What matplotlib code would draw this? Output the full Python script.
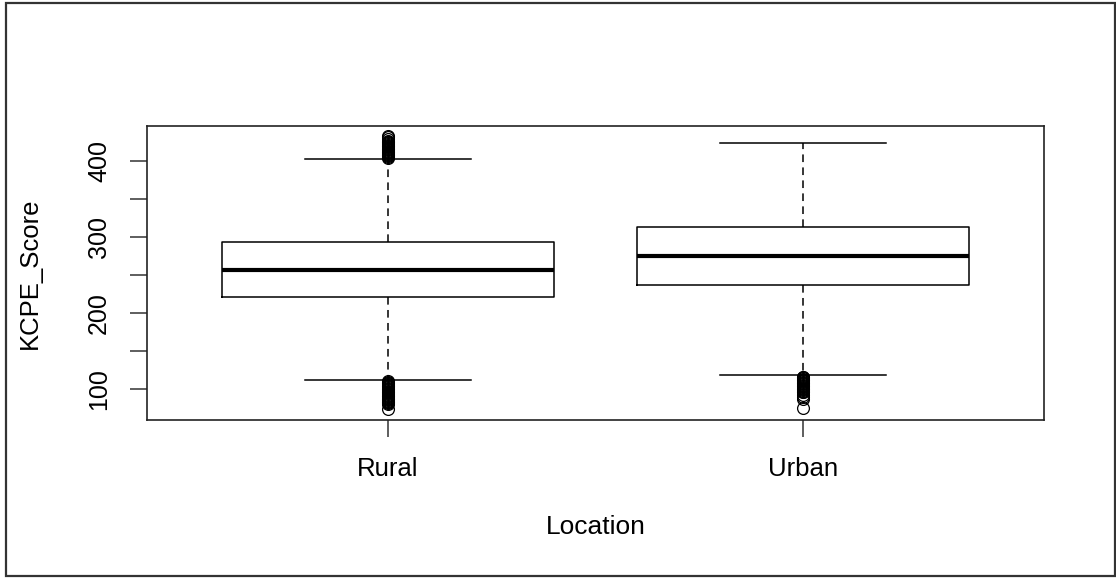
import matplotlib
matplotlib.use("Agg")
import matplotlib.pyplot as plt
from matplotlib.patches import Rectangle

plt.rcParams['font.family'] = ['Liberation Sans', 'DejaVu Sans']

categories = ["Rural", "Urban"]
q1 = [221, 236]
med = [256, 274.6]
q3 = [293.4, 313.2]
whislo = [111.4, 118]
whishi = [402.2, 422.9]
fliers_rural = [404, 405, 406, 407, 408, 409, 410, 411, 412, 413, 414, 415, 416,
                417, 418, 419, 420, 421, 422, 423, 424, 425, 426, 428, 431, 433,
                110, 109, 108, 107, 106, 105, 104, 103, 102, 101, 100, 99, 98, 97,
                96, 95, 94, 93, 92, 91, 90, 89, 88, 87, 86, 85, 84, 83, 82, 81, 80, 73]
fliers_urban = [116, 115, 114, 113, 112, 111, 110, 109, 108, 107, 106, 105, 104,
                103, 102, 101, 100, 99, 98, 97, 96, 95, 92, 89, 87, 75]
fliers = [fliers_rural, fliers_urban]
yticks = [100, 150, 200, 250, 300, 350, 400]
ytick_labels = ["100", "", "200", "", "300", "", "400"]

fig = plt.figure(figsize=(11.16, 5.79), dpi=100)
ax = fig.add_axes([147/1116, 1-420/579, (1044-147)/1116, (420-126)/579])

stats = []
for i, c in enumerate(categories):
    stats.append(dict(label=c, q1=q1[i], med=med[i], q3=q3[i],
                      whislo=whislo[i], whishi=whishi[i], fliers=fliers[i]))

ax.bxp(stats, positions=[1, 2], widths=0.8, showfliers=True,
       boxprops=dict(color='black', linewidth=1.1),
       medianprops=dict(color='black', linewidth=3.0, solid_capstyle='butt'),
       whiskerprops=dict(color='black', linewidth=1.1, linestyle=(0, (5, 3.5))),
       capprops=dict(color='black', linewidth=1.1),
       capwidths=0.4,
       flierprops=dict(marker='o', markersize=8.5, markerfacecolor='none',
                       markeredgecolor='black', markeredgewidth=0.9))

ax.set_xlim(0.42, 2.58)
ax.set_ylim(58.8, 445.7)
ax.set_yticks(yticks)
ax.set_yticklabels(ytick_labels, rotation=90, va='center', fontsize=18)
ax.set_xticks([1, 2])
ax.set_xticklabels(categories, fontsize=18.5)
ax.tick_params(axis='both', direction='out', length=12, width=1.1, color='#333333')
ax.tick_params(axis='y', pad=14)
ax.tick_params(axis='x', pad=15)
for s in ax.spines.values():
    s.set_linewidth(1.2)
    s.set_color('#222222')

ax.set_xlabel("Location", fontsize=19, va='center')
ax.xaxis.set_label_coords(0.5, (420-527)/294)
ax.set_ylabel("KCPE_Score", fontsize=18.5, va='center')
ax.yaxis.set_label_coords((30-147)/897, 0.5)

fig.patches.append(Rectangle((6/1116, 3/579), 1109/1116, 573/579,
                             transform=fig.transFigure, fill=False,
                             edgecolor='#333333', linewidth=1.6))

fig.savefig("out.png", dpi=100)
